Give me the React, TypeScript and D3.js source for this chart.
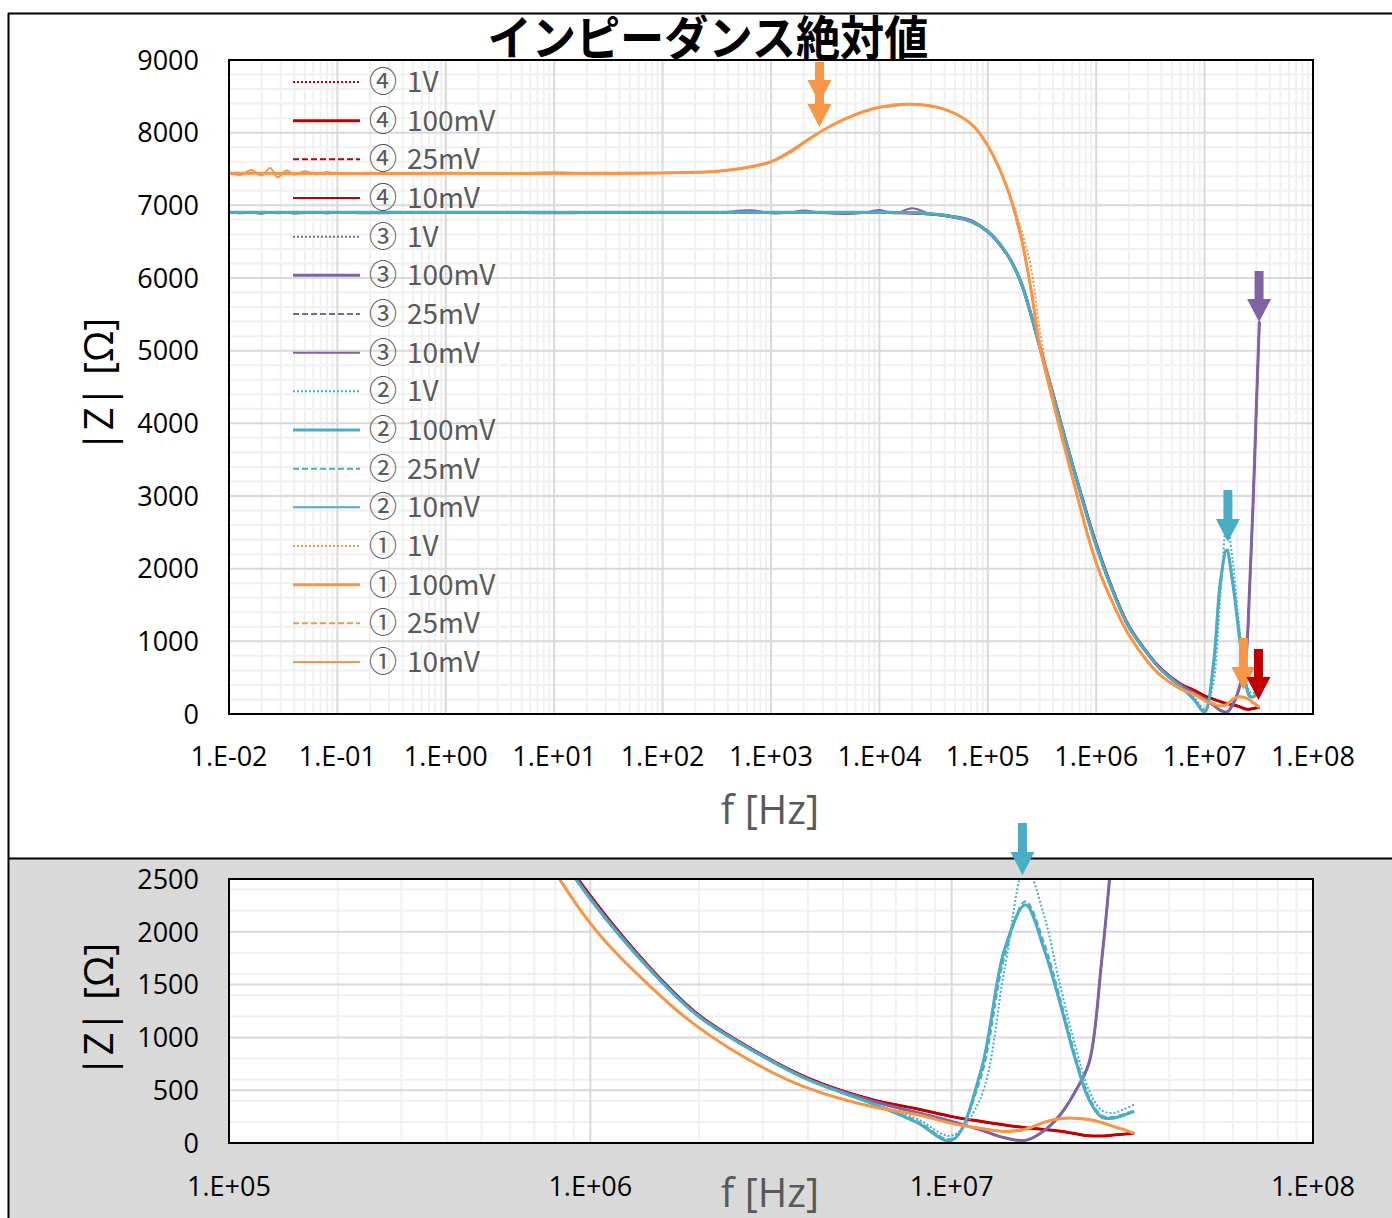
import { useEffect, useRef } from "react";
import * as d3 from "d3";

const W = 1392;
const H = 1218;

// frequency grids [Hz]
const F_A = [
  1e-2, 1, 1e2, 3e2, 6e2, 1e3, 1.5e3, 2e3, 3e3, 5e3, 1e4, 2e4, 4e4, 7e4,
  1e5, 1.5e5, 2e5, 2.5e5, 3e5, 4e5, 6e5, 1e6, 1.5e6, 2e6, 3e6, 4e6, 6e6, 8e6,
  1e7, 1.2e7, 1.4e7, 1.6e7, 1.8e7, 2e7, 2.2e7, 2.4e7, 2.6e7, 2.8e7, 3e7, 3.2e7,
];
const F_B_LOW = [
  0.01, 0.013, 0.016, 0.02, 0.024, 0.028, 0.034, 0.04, 0.05, 0.065, 0.08, 0.1,
  0.2, 0.5, 1, 3, 10, 30, 100, 300, 700, 1e3, 1.5e3, 2e3, 3e3, 5e3, 7e3, 1e4,
  1.4e4, 2e4, 3e4, 4e4, 7e4,
];
const F_B = [...F_B_LOW, ...F_A.slice(14)];

// |Z| readings [Ω]
const Z4 = [
  6900, 6900, 6900, 6900, 6900, 6900, 6900, 6900, 6900, 6900, 6900, 6895, 6860, 6780,
  6640, 6330, 5960, 5500, 5070, 4400, 3450, 2340, 1620, 1210, 830, 615, 412, 325,
  250, 205, 170, 145, 128, 112, 88, 68, 66, 75, 84, 92,
];
const Z3 = [
  6900, 6900, 6900, 6900, 6900, 6900, 6900, 6900, 6900, 6900, 6900, 6895, 6860, 6780,
  6640, 6330, 5960, 5500, 5060, 4390, 3440, 2320, 1610, 1200, 825, 605, 400, 290,
  205, 125, 50, 25, 115, 270, 490, 760, 1720, 2900, 4200, 5400,
];
const Z3_10MV_LOW = [
  6900, 6890, 6900, 6885, 6900, 6890, 6900, 6885, 6895, 6900, 6890, 6900,
  6890, 6900, 6895, 6900, 6890, 6900, 6895, 6900, 6930, 6890, 6900, 6930, 6895,
  6880, 6895, 6935, 6890, 6960, 6880, 6870, 6800,
];
const Z3_10MV = [...Z3_10MV_LOW, ...Z3.slice(14)];
const Z2 = [
  6905, 6905, 6905, 6905, 6905, 6905, 6905, 6905, 6905, 6905, 6905, 6900, 6862, 6780,
  6640, 6330, 5960, 5500, 5060, 4390, 3440, 2310, 1600, 1195, 820, 600, 375, 195,
  25, 660, 1830, 2255, 1840, 1310, 790, 410, 245, 235, 265, 300,
];
const Z2_25MV = [
  ...Z2.slice(0, 14),
  6640, 6330, 5960, 5500, 5060, 4390, 3440, 2310, 1600, 1195, 820, 600, 378, 210,
  40, 600, 1760, 2290, 1900, 1360, 830, 440, 262, 248, 275, 310,
];
const Z2_1V = [
  ...Z2.slice(0, 14),
  6640, 6330, 5960, 5500, 5060, 4390, 3440, 2310, 1600, 1195, 820, 600, 380, 230,
  70, 420, 1640, 2620, 2160, 1480, 920, 500, 310, 285, 320, 365,
];
const Z1 = [
  7440, 7440, 7445, 7465, 7520, 7600, 7730, 7860, 8030, 8200, 8350, 8390, 8320, 8120,
  7820, 7250, 6600, 5850, 5080, 4300, 3270, 2080, 1450, 1090, 715, 520, 345, 270,
  186, 139, 110, 130, 195, 232, 235, 222, 194, 157, 126, 92,
];
const Z1_1V = [
  ...Z1.slice(0, 14),
  7820, 7260, 6700, 6150, 5300, 4330, 3280, 2080, 1450, 1090, 715, 520, 345, 270,
  186, 139, 110, 130, 195, 232, 235, 222, 194, 157, 126, 92,
];
const Z1_10MV_LOW = [
  7450, 7420, 7485, 7410, 7515, 7385, 7480, 7420, 7470, 7425, 7460, 7435,
  7450, 7430, 7445, 7435, 7455, 7430, 7450, 7465, 7540, 7600, 7750, 7870, 8030,
  8200, 8290, 8345, 8370, 8395, 8365, 8320, 8120,
];
const Z1_10MV = [...Z1_10MV_LOW, ...Z1.slice(14)];

const GROUPS = ["④", "③", "②", "①"];
const VOLTS = ["1V", "100mV", "25mV", "10mV"];
const SERIES_F = [
  [F_A, F_A, F_A, F_A],
  [F_A, F_A, F_A, F_B],
  [F_A, F_A, F_A, F_A],
  [F_A, F_A, F_A, F_B],
];
const SERIES_Z = [
  [Z4, Z4, Z4, Z4],
  [Z3, Z3, Z3, Z3_10MV],
  [Z2_1V, Z2, Z2_25MV, Z2],
  [Z1_1V, Z1, Z1, Z1_10MV],
];

const X_TICKS_TOP = [1e-2, 1e-1, 1, 1e1, 1e2, 1e3, 1e4, 1e5, 1e6, 1e7, 1e8];
const X_LABELS_TOP = ["1.E-02", "1.E-01", "1.E+00", "1.E+01", "1.E+02", "1.E+03", "1.E+04", "1.E+05", "1.E+06", "1.E+07", "1.E+08"];
const Y_TICKS_TOP = [0, 1000, 2000, 3000, 4000, 5000, 6000, 7000, 8000, 9000];
const X_TICKS_BOT = [1e5, 1e6, 1e7, 1e8];
const X_LABELS_BOT = ["1.E+05", "1.E+06", "1.E+07", "1.E+08"];
const Y_TICKS_BOT = [0, 500, 1000, 1500, 2000, 2500];

// annotation arrows (frequency, |Z| of tail and tip)
const ARROWS_TOP = [
  { f: 2.8e3, zTop: 8972, zTip: 8408, group: "①" },
  { f: 2.8e3, zTop: 8656, zTip: 8078, group: "①" },
  { f: 3.18e7, zTop: 6096, zTip: 5394, group: "③" },
  { f: 1.64e7, zTop: 3082, zTip: 2367, group: "②" },
  { f: 2.28e7, zTop: 1046, zTip: 330, group: "①" },
  { f: 3.14e7, zTop: 894, zTip: 193, group: "④" },
];
const ARROWS_BOT = [{ f: 1.57e7, zTop: 3030, zTip: 2538, group: "②" }];

const COLOR: Record<string, string> = {
  "④": "#c00000",
  "③": "#8064a2",
  "②": "#4bacc6",
  "①": "#f79646",
};
const VOLT_STYLE: Record<string, { dash: string | null; w: number }> = {
  "1V": { dash: "2,2", w: 2 },
  "100mV": { dash: null, w: 3 },
  "25mV": { dash: "6,3", w: 2 },
  "10mV": { dash: null, w: 2 },
};

const NUM_FONT = "'Open Sans', sans-serif";
const JP_FONT = "'Noto Sans CJK JP', sans-serif";

type Panel = {
  id: string;
  left: number;
  right: number;
  top: number;
  bottom: number;
  xDomain: [number, number];
  yDomain: [number, number];
  yMajor: number;
  xTicks: number[];
  xLabels: string[];
  yTicks: number[];
  xLabelY: number;
  arrows: typeof ARROWS_TOP;
};

const TOP: Panel = {
  id: "top", left: 229, right: 1313, top: 60, bottom: 714,
  xDomain: [1e-2, 1e8], yDomain: [0, 9000], yMajor: 1000,
  xTicks: X_TICKS_TOP, xLabels: X_LABELS_TOP, yTicks: Y_TICKS_TOP,
  xLabelY: 766, arrows: ARROWS_TOP,
};
const BOT: Panel = {
  id: "bot", left: 229, right: 1313, top: 879, bottom: 1143,
  xDomain: [1e5, 1e8], yDomain: [0, 2500], yMajor: 500,
  xTicks: X_TICKS_BOT, xLabels: X_LABELS_BOT, yTicks: Y_TICKS_BOT,
  xLabelY: 1196, arrows: ARROWS_BOT,
};

function drawPanel(svg: d3.Selection<SVGSVGElement, unknown, null, undefined>, p: Panel) {
  const x = d3.scaleLog().domain(p.xDomain).range([p.left, p.right]);
  const y = d3.scaleLinear().domain(p.yDomain).range([p.bottom, p.top]);
  const g = svg.append("g");

  g.append("rect")
    .attr("x", p.left).attr("y", p.top)
    .attr("width", p.right - p.left).attr("height", p.bottom - p.top)
    .attr("fill", "#fff");

  // minor grid
  const lo = Math.round(Math.log10(p.xDomain[0]));
  const hi = Math.round(Math.log10(p.xDomain[1]));
  const minorX: number[] = [];
  for (let d = lo; d < hi; d++) for (let k = 2; k <= 9; k++) minorX.push(k * 10 ** d);
  const minorY = d3.range(p.yDomain[0], p.yDomain[1] + 1, 200).filter((v) => v % p.yMajor !== 0);

  g.selectAll(".mx").data(minorX).enter().append("line")
    .attr("x1", (d) => x(d)).attr("x2", (d) => x(d))
    .attr("y1", p.top).attr("y2", p.bottom)
    .attr("stroke", "#f0f0f0").attr("stroke-width", 2);
  g.selectAll(".my").data(minorY).enter().append("line")
    .attr("x1", p.left).attr("x2", p.right)
    .attr("y1", (d) => y(d)).attr("y2", (d) => y(d))
    .attr("stroke", "#f0f0f0").attr("stroke-width", 2);
  g.selectAll(".gx").data(p.xTicks).enter().append("line")
    .attr("x1", (d) => x(d)).attr("x2", (d) => x(d))
    .attr("y1", p.top).attr("y2", p.bottom)
    .attr("stroke", "#d9d9d9").attr("stroke-width", 2);
  g.selectAll(".gy").data(p.yTicks).enter().append("line")
    .attr("x1", p.left).attr("x2", p.right)
    .attr("y1", (d) => y(d)).attr("y2", (d) => y(d))
    .attr("stroke", "#d9d9d9").attr("stroke-width", 2);

  // series
  const clipId = `clip-${p.id}`;
  svg.append("clipPath").attr("id", clipId).append("rect")
    .attr("x", p.left).attr("y", p.top)
    .attr("width", p.right - p.left).attr("height", p.bottom - p.top);
  const lines = g.append("g").attr("clip-path", `url(#${clipId})`);
  const line = d3.line<[number, number]>()
    .x((d) => x(d[0]))
    .y((d) => y(d[1]))
    .curve(d3.curveCatmullRom.alpha(0.5));
  GROUPS.forEach((grp, gi) => {
    VOLTS.forEach((v, vi) => {
      const fs = SERIES_F[gi][vi];
      const zs = SERIES_Z[gi][vi];
      const pts = fs
        .map((f, i) => [f, zs[i]] as [number, number])
        .filter((d) => d[0] >= p.xDomain[0] / 1.5);
      const st = VOLT_STYLE[v];
      lines.append("path")
        .attr("d", line(pts) ?? "")
        .attr("fill", "none")
        .attr("stroke", COLOR[grp])
        .attr("stroke-width", st.w)
        .attr("stroke-dasharray", st.dash)
        .attr("stroke-linejoin", "round");
    });
  });

  // frame
  g.append("rect")
    .attr("x", p.left).attr("y", p.top)
    .attr("width", p.right - p.left).attr("height", p.bottom - p.top)
    .attr("fill", "none").attr("stroke", "#000").attr("stroke-width", 2);

  // tick labels
  g.selectAll(".xl").data(p.xTicks).enter().append("text")
    .attr("x", (d) => x(d)).attr("y", p.xLabelY)
    .attr("text-anchor", "middle")
    .style("font-family", NUM_FONT).style("font-size", "27px").attr("fill", "#000")
    .text((_d, i) => p.xLabels[i]);
  g.selectAll(".yl").data(p.yTicks).enter().append("text")
    .attr("x", 199).attr("y", (d) => y(d) + 9.7)
    .attr("text-anchor", "end")
    .style("font-family", NUM_FONT).style("font-size", "27px").attr("fill", "#000")
    .text((d) => String(d));

  // arrows
  const SHAFT = 9, HEAD = 24, HEAD_L = 23;
  p.arrows.forEach((a) => {
    const ax = x(a.f), y0 = y(a.zTop), y1 = y(a.zTip);
    const pts: [number, number][] = [
      [ax - SHAFT / 2, y0], [ax + SHAFT / 2, y0], [ax + SHAFT / 2, y1 - HEAD_L],
      [ax + HEAD / 2, y1 - HEAD_L], [ax, y1], [ax - HEAD / 2, y1 - HEAD_L],
      [ax - SHAFT / 2, y1 - HEAD_L],
    ];
    svg.append("polygon")
      .attr("points", pts.map((q) => q.join(",")).join(" "))
      .attr("fill", COLOR[a.group]);
  });

  return { x, y };
}

export default function App() {
  const svgRef = useRef<SVGSVGElement>(null);

  useEffect(() => {
    const svg = d3.select(svgRef.current);
    if (!svg.node()) return;
    svg.selectAll("*").remove();

    // panels background + frame
    svg.append("rect").attr("x", 0).attr("y", 0).attr("width", W).attr("height", H).attr("fill", "#fff");
    svg.append("rect").attr("x", 9).attr("y", 859).attr("width", W - 9).attr("height", H - 859).attr("fill", "#d9d9d9");
    svg.append("line").attr("x1", 8).attr("x2", W).attr("y1", 13.5).attr("y2", 13.5).attr("stroke", "#000").attr("stroke-width", 2);
    svg.append("line").attr("x1", 8).attr("x2", W).attr("y1", 858.5).attr("y2", 858.5).attr("stroke", "#000").attr("stroke-width", 2);
    svg.append("line").attr("x1", 8.5).attr("x2", 8.5).attr("y1", 13).attr("y2", H).attr("stroke", "#000").attr("stroke-width", 2);

    drawPanel(svg as any, TOP);
    drawPanel(svg as any, BOT);

    // legend
    const ly = d3.scaleLinear().domain([0, 15]).range([82, 662]);
    const entries = GROUPS.flatMap((grp) => VOLTS.map((v) => ({ grp, v })));
    const lg = svg.append("g");
    entries.forEach((e, i) => {
      const st = VOLT_STYLE[e.v];
      lg.append("line")
        .attr("x1", 293).attr("x2", 360).attr("y1", ly(i)).attr("y2", ly(i))
        .attr("stroke", COLOR[e.grp]).attr("stroke-width", st.w)
        .attr("stroke-dasharray", st.dash);
      const t = lg.append("text")
        .attr("x", 369).attr("y", ly(i) + 10)
        .style("font-family", JP_FONT).style("font-size", "28px")
        .attr("fill", "#595959");
      t.append("tspan").text(e.grp);
      t.append("tspan").attr("x", 407).text(e.v);
    });

    // titles
    svg.append("text")
      .attr("x", 708).attr("y", 55)
      .attr("text-anchor", "middle")
      .attr("textLength", 441).attr("lengthAdjust", "spacingAndGlyphs")
      .style("font-family", JP_FONT).style("font-size", "47px").style("font-weight", 700)
      .attr("fill", "#000")
      .text("インピーダンス絶対値");

    [824, 1207].forEach((by) => {
      svg.append("text")
        .attr("x", 770).attr("y", by).attr("text-anchor", "middle")
        .style("font-family", NUM_FONT).style("font-size", "40px").attr("fill", "#595959")
        .text("f [Hz]");
    });
    [385, 1010].forEach((cy) => {
      svg.append("text")
        .attr("transform", `translate(113,${cy}) rotate(-90)`)
        .attr("text-anchor", "middle")
        .style("font-family", NUM_FONT).style("font-size", "40px").attr("fill", "#000")
        .text("|Z| [Ω]");
    });
  }, []);

  return (
    <div style={{ position: "absolute", left: 0, top: 0 }}>
      <svg ref={svgRef} width={W} height={H} style={{ display: "block" }} />
    </div>
  );
}
